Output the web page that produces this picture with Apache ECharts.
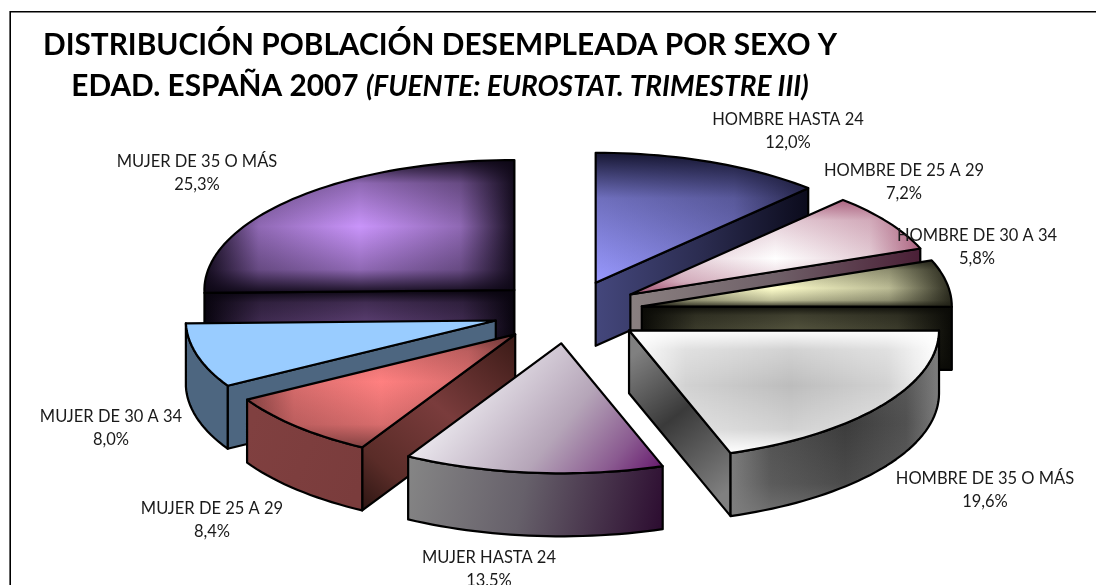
<!DOCTYPE html>
<html><head><meta charset="utf-8">
<style>html,body{margin:0;padding:0;background:#fff}#c{width:1096px;height:585px}</style>
<script src="https://cdn.jsdelivr.net/npm/echarts@6/dist/echarts.min.js"></script>
</head><body><div id="c"></div>
<script>
const categories = ['HOMBRE HASTA 24','HOMBRE DE 25 A 29','HOMBRE DE 30 A 34','HOMBRE DE 35 O MÁS','MUJER HASTA 24','MUJER DE 25 A 29','MUJER DE 30 A 34','MUJER DE 35 O MÁS'];
const shares = [12.0,7.2,5.8,19.6,13.5,8.4,8.0,25.3];
const labelCenters = [[788,131],[904,182],[977,247],[985,490],[489,569],[212,520],[111,428],[197,173]];

const CX=568, CY=312, RX=310, RY=130, DEPTH=63, EXPLODE=75;
const looks = [
 {top:{base:'#9999ff',edge:'8,8,28',fx:0,fy:1,ax:.7,ay:.9},
  end:{lin:[0,.3,1,.3],stops:[[0,'#44477c'],[.5,'#2b2c50'],[1,'#0b0b1c']]}},
 {top:{base:'#ffffff',edge:'168,92,122',fx:.5,fy:.62,ax:.95,ay:.95},
  end:{lin:[0,.5,1,.5],stops:[[0,'#8a8080'],[.5,'#6f6068'],[1,'#4a1f36']]}},
 {top:{base:'#ffffcc',edge:'30,30,20',fx:.42,fy:.6,ax:.95,ay:.9},
  end:{base:'#55553f',edge:'10,10,6',fx:.5,fy:.4,ax:1,ay:.9}},
 {top:{base:'#bdbdbd',edge:'255,255,255',fx:.52,fy:.45,ax:1,ay:1},
  end:{lin:[0,.15,1,.85],stops:[[0,'#808080'],[.45,'#3a3a3a'],[1,'#808080']]},
  arc:{base:'#3c3c3c',edge:'128,128,128',fx:.55,fy:.5,ax:.95,ay:.7}},
 {top:{lin:[.35,0,.98,1],stops:[[0,'#ebe8ee'],[.5,'#b5a5b8'],[.8,'#8a5a90'],[1,'#671a6e']]},
  arc:{lin:[0,.2,1,.9],stops:[[0,'#858585'],[.45,'#66606a'],[1,'#2c0c30']]}},
 {top:{base:'#ff8080',edge:'110,55,55',fx:.5,fy:.42,ax:.85,ay:.85},
  start:{lin:[0,1,1,0],stops:[[0,'#2c1512'],[.2,'#5a2c28'],[.55,'#7a3c3c'],[1,'#3a1a16']]},
  arc:{lin:[0,.3,1,.7],stops:[[0,'#804040'],[1,'#7a3c3c']]}},
 {top:{lin:[0,0,1,0],stops:[[0,'#99ccff'],[1,'#99ccff']]},
  start:{lin:[0,0,1,0],stops:[[0,'#4d6680'],[1,'#4d6680']]},
  arc:{lin:[0,0,1,0],stops:[[0,'#4d6680'],[1,'#4d6680']]}},
 {top:{base:'#c994fa',edge:'12,6,20',fx:.5,fy:.5,ax:.95,ay:.95},
  start:{base:'#5d4074',edge:'8,4,14',fx:.52,fy:.55,ax:1,ay:1}}
];

function bbox(p){const xs=p.map(a=>a[0]),ys=p.map(a=>a[1]);return [Math.min(...xs),Math.min(...ys),Math.max(...xs),Math.max(...ys)];}
function fillLayers(points,s,z){
  const [x0,y0,x1,y1]=bbox(points),w=x1-x0||1,h=y1-y0||1,out=[];
  const poly=(fill,stroke)=>out.push({type:'polygon',z2:z,silent:true,shape:{points},style:{fill,stroke:stroke||null,lineWidth:stroke?2.2:0,lineJoin:'round'}});
  if(s.lin){
    poly({type:'linear',global:true,x:x0+s.lin[0]*w,y:y0+s.lin[1]*h,x2:x0+s.lin[2]*w,y2:y0+s.lin[3]*h,
      colorStops:s.stops.map(c=>({offset:c[0],color:c[1]}))});
  }else{
    poly(s.base);
    const grad=(horizontal,f,a)=>{
      const stops=[];
      const c=v=>'rgba('+s.edge+','+v+')';
      if(f>0){stops.push({offset:0,color:c(a)});stops.push({offset:f*.35,color:c(a*.32)});}
      stops.push({offset:f,color:c(0)});
      if(f<1){stops.push({offset:f+(1-f)*.65,color:c(a*.32)});stops.push({offset:1,color:c(a)});}
      return horizontal?{type:'linear',global:true,x:x0,y:y0,x2:x1,y2:y0,colorStops:stops}
                       :{type:'linear',global:true,x:x0,y:y0,x2:x0,y2:y1,colorStops:stops};
    };
    poly(grad(true,s.fx,s.ax));
    poly(grad(false,s.fy,s.ay));
  }
  poly('rgba(0,0,0,0)','#000');
  return out;
}

const total = shares.reduce((a,v)=>a+v,0);
const cum=[];shares.reduce((a,v,i)=>{cum[i]=a;return a+v;},0);
const rank=shares.map((v,i)=>{const m=(cum[i]+v/2)/total*2*Math.PI;return Math.cos(m);});
const order=rank.map((c,i)=>[c,i]).sort((a,b)=>b[0]-a[0]).map(a=>a[1]);

function renderSlice(params,api){
  const i=params.dataIndex, v=api.value(0);
  const a0=cum[i]/total*2*Math.PI, a1=a0+v/total*2*Math.PI, mid=(a0+a1)/2;
  const ax=CX+EXPLODE*Math.sin(mid), ay=CY-EXPLODE*RY/RX*Math.cos(mid);
  const pt=(a,d)=>[ax+RX*Math.sin(a), ay-RY*Math.cos(a)+(d||0)];
  const arc=(from,to,d)=>{const n=Math.max(2,Math.ceil(Math.abs(to-from)/0.03)),r=[];
    for(let k=0;k<=n;k++)r.push(pt(from+(to-from)*k/n,d));return r;};
  const look=looks[i], rk=order.indexOf(i)*10+10, ch=[];
  const radial=a=>[[ax,ay],pt(a),pt(a,DEPTH),[ax,ay+DEPTH]];
  const P=Math.PI;
  if(look.end && a1<P+0.001) ch.push(...fillLayers(radial(a1),look.end,rk));
  if(look.start && a0>P-0.001) ch.push(...fillLayers(radial(a0),look.start,rk));
  const f0=Math.max(a0,P/2), f1=Math.min(a1,3*P/2);
  if(f1>f0 && look.arc) ch.push(...fillLayers(arc(f0,f1,0).concat(arc(f1,f0,DEPTH)),look.arc,rk));
  ch.push(...fillLayers([[ax,ay]].concat(arc(a0,a1,0)),look.top,rk+1));
  const c=labelCenters[i];
  ch.push({type:'text',z2:500,silent:true,x:c[0],y:c[1],style:{
    text:api.value(1)+'\n'+v.toFixed(1).replace('.',',')+'%',
    fill:'#1a1a1a',font:'16.5px Lato',align:'center',verticalAlign:'middle',lineHeight:23}});
  return {type:'group',children:ch};
}

const chart=echarts.init(document.getElementById('c'),null,{renderer:'canvas'});
chart.setOption({
  animation:false,
  backgroundColor:'#fff',
  title:{
    left:435,top:20,textAlign:'center',
    text:'{a|DISTRIBUCIÓN POBLACIÓN DESEMPLEADA POR SEXO Y}\n{a|EDAD. ESPAÑA 2007 }{b|(FUENTE: EUROSTAT. TRIMESTRE III)}',
    textStyle:{rich:{
      a:{fontFamily:'Lato',fontWeight:'bold',fontSize:29.8,lineHeight:41,color:'#000'},
      b:{fontFamily:'Lato',fontWeight:'bold',fontStyle:'italic',fontSize:28,lineHeight:41,color:'#000'}
    }}
  },
  graphic:[{type:'rect',shape:{x:10.2,y:11.8,width:1200,height:700},style:{fill:'none',stroke:'#000',lineWidth:1.6},silent:true,z:-1}],
  series:[{type:'custom',coordinateSystem:'none',renderItem:renderSlice,clip:false,
    encode:{value:0},
    data:shares.map((v,i)=>[v,categories[i]])}]
});
</script></body></html>
